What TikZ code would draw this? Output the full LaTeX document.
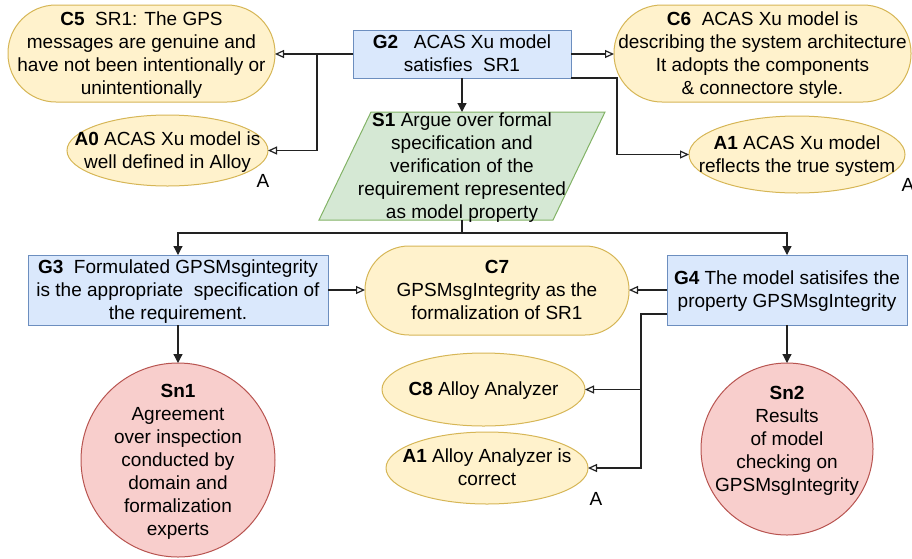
\documentclass[tikz,border=0pt]{standalone}
\usepackage{fontspec}
\setmainfont{Liberation Sans}
\usetikzlibrary{arrows.meta,shapes.geometric,backgrounds}
\definecolor{bfill}{HTML}{DAE8FC}
\definecolor{bdraw}{HTML}{6C8EBF}
\definecolor{yfill}{HTML}{FFF2CC}
\definecolor{ydraw}{HTML}{D6B656}
\definecolor{gfill}{HTML}{D5E8D4}
\definecolor{gdraw}{HTML}{82B366}
\definecolor{rfill}{HTML}{F8CECC}
\definecolor{rdraw}{HTML}{B85450}
\definecolor{lcol}{HTML}{222222}
\newcommand{\ctext}[2][-6pt]{\makebox[0pt]{\smash{\raisebox{#1}{\begin{tabular}{@{}c@{}}#2\end{tabular}}}}}
\tikzset{
  base/.style={inner sep=0pt, outer sep=0pt, line width=1pt, font=\fontsize{19}{23}\selectfont},
  goal/.style={base, rectangle, draw=bdraw, fill=bfill},
  ctx/.style={base, rectangle, draw=ydraw, fill=yfill},
  ell/.style={base, ellipse, draw=ydraw, fill=yfill},
  sol/.style={base, circle, draw=rdraw, fill=rfill},
  lbl/.style={base},
  oarrow/.style={draw=lcol, line width=1.2pt, -{Triangle[open, length=9pt, width=8pt]}},
  farrow/.style={draw=lcol, line width=1.2pt, -{Triangle[length=9pt, width=9pt]}}
}
\begin{document}
\begin{tikzpicture}[x=1pt, y=-1pt]
\useasboundingbox (0,0) rectangle (912,558);

% top row
\node[ctx, minimum width=267pt, minimum height=97pt, rounded corners=48pt] (C5) at (141.5,53.5)
  {\ctext{\textbf{C5}\ \ SR1: The GPS\\messages are genuine and\\have not been intentionally or\\unintentionally}};
\node[goal, minimum width=218pt, minimum height=48pt] (G2) at (462,54)
  {\ctext{\textbf{G2}\ \ \ ACAS Xu model\\satisfies\ \ SR1}};
\node[ctx, minimum width=297pt, minimum height=97pt, rounded corners=48pt] (C6) at (762.5,53.5)
  {\ctext{\textbf{C6}\ \ ACAS Xu model is\\describing the system architecture\\It adopts the components\\\& connectore style.}};
\node[ell, minimum width=201pt, minimum height=71pt] (A0) at (167.5,150.5)
  {\ctext{\textbf{A0} ACAS Xu model is\\well defined in Alloy}};
\node[lbl] (A0a) at (263,181) {A};
\node[ell, minimum width=216pt, minimum height=77pt] (A1t) at (797,154.5)
  {\ctext{\textbf{A1} ACAS Xu model\\reflects the true system}};
\node[lbl] (A1ta) at (908,185) {A};

% strategy
\node[base, rectangle, minimum width=234pt, minimum height=108pt] (S1) at (462,166)
  {\ctext{\textbf{S1} Argue over formal\\specification and\\verification of the\\requirement represented\\as model property}};
\begin{scope}[on background layer]
\path[draw=gdraw, fill=gfill, line width=1pt]
  ([xshift=26pt]S1.north west) -- ([xshift=26pt]S1.north east)
  -- ([xshift=-26pt]S1.south east) -- ([xshift=-26pt]S1.south west) -- cycle;
\end{scope}

% middle row
\node[goal, minimum width=300pt, minimum height=70pt] (G3) at (178,290)
  {\ctext{\textbf{G3}\ \ Formulated GPSMsgintegrity\\is the appropriate\ \ specification of\\the requirement.}};
\node[ctx, minimum width=264pt, minimum height=89pt, rounded corners=44pt] (C7) at (497,290.5)
  {\ctext{\textbf{C7}\\GPSMsgIntegrity as the\\formalization of SR1}};
\node[goal, minimum width=240pt, minimum height=70pt] (G4) at (787,290)
  {\ctext{\textbf{G4} The model satisifes the\\property GPSMsgIntegrity}};

% bottom
\node[ell, minimum width=203pt, minimum height=73pt] (C8) at (483.5,389.5)
  {\ctext{\textbf{C8} Alloy Analyzer}};
\node[ell, minimum width=202pt, minimum height=72pt] (A1b) at (487,468)
  {\ctext{\textbf{A1} Alloy Analyzer is\\correct}};
\node[lbl] (A1ba) at (596,499) {A};
\node[sol, minimum size=194pt] (Sn1) at (178,460)
  {\ctext{\textbf{Sn1}\\Agreement\\over inspection\\conducted by\\domain and\\formalization\\experts}};
\node[sol, minimum size=172pt] (Sn2) at (787,449)
  {\ctext[4pt]{\textbf{Sn2}\\Results\\of model\\checking on\\GPSMsgIntegrity}};

% connectors
\draw[oarrow] (G2.west) -- (G2.west -| C5.east);
\draw[oarrow] (G2.west) -- ++(-36,0) |- (A0.east);
\draw[oarrow] (G2.east) -- (G2.east -| C6.west);
\draw[oarrow] (G2.south east) -- ++(46,0) |- (A1t.west);
\draw[farrow] (G2.south) -- (S1.north);
\draw[farrow] (S1.south) -- ++(0,13) -| (G3.north);
\draw[farrow] (S1.south) -- ++(0,13) -| (G4.north);
\draw[oarrow] (G3.east) -- (G3.east -| C7.west);
\draw[oarrow] (G4.west) -- (G4.west -| C7.east);
\draw[oarrow] ([yshift=-24pt]G4.west) -- ++(-26,0) |- (C8.east);
\draw[oarrow] ([yshift=-24pt]G4.west) -- ++(-26,0) |- (A1b.east);
\draw[farrow] (G3.south) -- (Sn1.north);
\draw[farrow] (G4.south) -- (Sn2.north);
\end{tikzpicture}
\end{document}
